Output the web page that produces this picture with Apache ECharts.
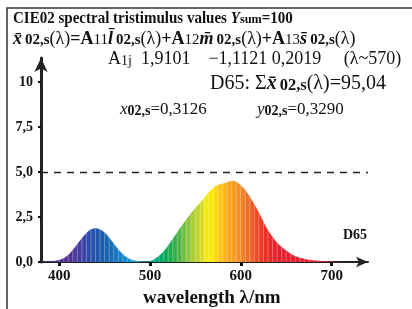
<!DOCTYPE html>
<html>
<head>
<meta charset="utf-8">
<script src="https://cdn.jsdelivr.net/npm/echarts@6/dist/echarts.min.js"></script>
<style>
html,body{margin:0;padding:0;background:#fff;}
#c{width:412px;height:309px;}
</style>
</head>
<body>
<div id="c"></div>
<script>
// ---- data ----
const wavelengths = [380,385,390,395,400,405,410,415,420,425,430,435,440,445,450,455,460,465,470,475,480,485,490,495,
  500,505,510,515,520,525,530,535,540,545,550,555,560,565,570,575,580,585,590,595,
  600,605,610,615,620,625,630,635,640,645,650,655,660,665,670,675,680,685,690,695,700,705,710];
const xbarD65 = [0.00,0.01,0.02,0.05,0.10,0.20,0.38,0.65,0.98,1.30,1.60,1.80,1.86,1.80,1.62,1.35,1.02,0.70,0.43,0.23,0.11,0.05,0.02,0.01,
  0.03,0.15,0.33,0.58,0.90,1.26,1.64,2.00,2.35,2.68,2.98,3.27,3.56,3.87,4.12,4.28,4.33,4.42,4.50,4.44,
  4.25,3.97,3.60,3.18,2.72,2.20,1.74,1.38,1.05,0.82,0.62,0.44,0.31,0.22,0.16,0.11,0.08,0.05,0.03,0.02,0.01,0.005,0.0];
const xTicks = [400,500,600,700];
const yTicks = [0,2.5,5,7.5,10];
const refLevel = 5;

// spectral colour stops (style)
const spectrum = [[380,'#3a2470'],[400,'#4a2c8c'],[415,'#53369c'],[425,'#3f40a2'],[435,'#2a50aa'],[445,'#1c5cac'],[455,'#1866b2'],
  [465,'#1878c2'],[475,'#1690d2'],[485,'#1eaade'],[492,'#30bad6'],[498,'#00a496'],[505,'#00a482'],[512,'#00a86a'],[520,'#12aa50'],
  [530,'#42b046'],[540,'#82c23e'],[550,'#b4ce36'],[558,'#dadc28'],[565,'#fff000'],[571,'#ffdc08'],[577,'#fcc41a'],[585,'#f8aa20'],
  [595,'#f49624'],[603,'#f08028'],[611,'#ee6428'],[619,'#eb4628'],[628,'#e92e28'],[640,'#e8202e'],[700,'#e41e32'],[740,'#e01e32']];
function hex2rgb(h){return [1,3,5].map(i=>parseInt(h.substr(i,2),16));}
function specColor(nm){
  for(let i=0;i<spectrum.length-1;i++){
    const a=spectrum[i],b=spectrum[i+1];
    if(nm>=a[0]&&nm<=b[0]){
      const t=(nm-a[0])/(b[0]-a[0]);const ca=hex2rgb(a[1]),cb=hex2rgb(b[1]);
      return 'rgb('+ca.map((v,k)=>Math.round(v+(cb[k]-v)*t)).join(',')+')';
    }
  }
  return spectrum[spectrum.length-1][1];
}
const pieces = wavelengths.slice(0,-1).map(w=>({gte:w,lt:w+5,color:specColor(w+2.5)}));

const serif = '"Liberation Serif","Times New Roman",serif';
const chart = echarts.init(document.getElementById('c'));
const pts = wavelengths.map((w,i)=>[w,xbarD65[i]]);

function mkRich(fs, ss){
  const lh = Math.round(fs*1.15);
  return {
    b:{fontFamily:serif,fontWeight:'bold',fontSize:fs,lineHeight:lh,verticalAlign:'bottom'},
    bi:{fontFamily:serif,fontWeight:'bold',fontStyle:'italic',fontSize:fs,lineHeight:lh,verticalAlign:'bottom'},
    n:{fontFamily:serif,fontSize:fs,lineHeight:lh,verticalAlign:'bottom'},
    ni:{fontFamily:serif,fontStyle:'italic',fontSize:fs,lineHeight:lh,verticalAlign:'bottom'},
    bs:{fontFamily:serif,fontWeight:'bold',fontSize:ss,lineHeight:Math.round(ss*0.75),verticalAlign:'bottom'},
    bsg:{fontFamily:serif,fontWeight:'bold',fontSize:ss,lineHeight:Math.round(ss*0.75),verticalAlign:'bottom',padding:[0,0,0,3]},
    ns:{fontFamily:serif,fontSize:ss,lineHeight:Math.round(ss*0.75),verticalAlign:'bottom'}
  };
}
function txt(left,top,text,fs,ss,extra){
  return Object.assign({type:'text',left:left,top:top,style:{text:text,rich:mkRich(fs,ss),fill:'#111'}},extra||{});
}

chart.setOption({
  animation:false,
  backgroundColor:'#fff',
  grid:{left:41,top:58,width:327,height:204,containLabel:false},
  xAxis:{type:'value',min:380,max:740,
    axisLine:{show:true,onZero:false,symbol:['none','arrow'],symbolSize:[8,12],lineStyle:{color:'#222',width:2}},
    axisTick:{show:true,customValues:xTicks,length:4,lineStyle:{color:'#111',width:3}},
    axisLabel:{customValues:xTicks,margin:7,color:'#111',fontFamily:serif,fontWeight:'bold',fontSize:15},
    splitLine:{show:false}},
  yAxis:{type:'value',min:0,max:11.33,
    axisLine:{show:true,symbol:['none','arrow'],symbolSize:[10,14],lineStyle:{color:'#222',width:3}},
    axisTick:{show:true,customValues:yTicks,length:3,lineStyle:{color:'#111',width:2}},
    axisLabel:{customValues:yTicks,margin:8,color:'#111',fontFamily:serif,fontWeight:'bold',fontSize:14,
      formatter:v=>v===10?'10':v.toFixed(1).replace('.',',')},
    splitLine:{show:false}},
  visualMap:{type:'piecewise',show:false,dimension:0,seriesIndex:0,pieces:pieces,outOfRange:{color:'#e01e32'}},
  series:[
    {type:'line',data:pts,smooth:0.3,showSymbol:false,lineStyle:{width:0.5},areaStyle:{opacity:1},z:2,
      markLine:{silent:true,symbol:'none',label:{show:false},
        lineStyle:{color:'#222',width:1.3,type:[7,6]},data:[{yAxis:refLevel}]}},
    {type:'bar',data:pts.slice(1,-1),barWidth:1,itemStyle:{color:'rgba(255,255,255,0.3)'},z:3,silent:true}
  ],
  graphic:[
    {type:'rect',shape:{x:7,y:8,width:430,height:320},style:{fill:'none',stroke:'#333',lineWidth:1.5},silent:true},
    txt(13,10,'{b|CIE02 spectral tristimulus values }{bi|Y}{bs|sum}{b|=100}',16.5,13.5,{scaleX:0.91}),
    txt(13,30,'{bi|x̄}{bsg|02,s}{n|(λ)}{b|=A}{ns|11}{bi|l̄}{bsg|02,s}{n|(λ)}{b|+A}{ns|12}{bi|m̄}{bsg|02,s}{n|(λ)}{b|+A}{ns|13}{bi|s̄}{bsg|02,s}{n|(λ)}',18,15),
    txt(108,50,'{n|A}{ns|1j}{n|  1,9101    −1,1121 0,2019     (λ~570)}',18,14),
    txt(210,74,'{n|D65: Σ}{bi|x̄}{bsg|02,s}{n|(λ)=95,04}',20,16.5),
    txt(120,101,'{ni|x}{bs|02,s}{n|=0,3126}',17,14),
    txt(257,101,'{ni|y}{bs|02,s}{n|=0,3290}',17,14),
    {type:'text',left:343,top:228,style:{text:'D65',fill:'#111',font:'bold 14px '+serif}},
    {type:'text',left:143,top:289,style:{text:'wavelength λ/nm',fill:'#111',font:'bold 19px '+serif}}
  ]
});
</script>
</body>
</html>
